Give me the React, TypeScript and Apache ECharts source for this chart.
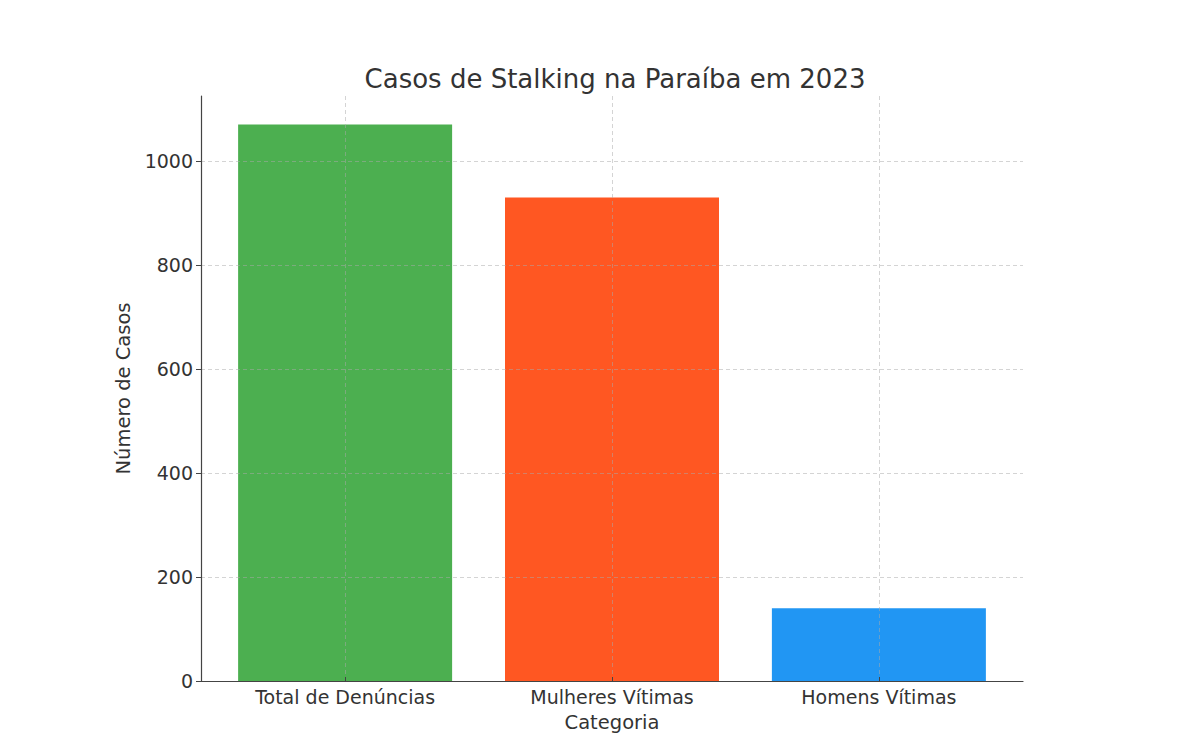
import React, { useEffect, useRef } from "react";
import * as echarts from "echarts";

const categories = ["Total de Denúncias", "Mulheres Vítimas", "Homens Vítimas"];
const values = [1070, 930, 140];
const colors = ["#4CAF50", "#FF5722", "#2196F3"];
const yTicks = [0, 200, 400, 600, 800, 1000];

export default function App() {
  const ref = useRef<HTMLDivElement>(null);
  useEffect(() => {
    if (!ref.current) return;
    const chart = echarts.init(ref.current, null, { renderer: "svg" });
    const font = "DejaVu Sans";
    const txt = "#333333";
    chart.setOption({
      animation: false,
      backgroundColor: "#ffffff",
      textStyle: { fontFamily: font },
      title: {
        text: "Casos de Stalking na Paraíba em 2023",
        left: 610,
        textAlign: "center",
        top: 61,
        textStyle: { fontFamily: font, fontSize: 26, fontWeight: "normal", color: txt },
      },
      grid: { left: 201, right: 177, top: 96, bottom: 61, containLabel: false },
      xAxis: {
        type: "value",
        min: -0.54,
        max: 2.54,
        name: "Categoria",
        nameLocation: "middle",
        nameGap: 31,
        nameTextStyle: { fontFamily: font, fontSize: 19.5, color: txt },
        z: 5,
        axisLine: { show: true, onZero: false, lineStyle: { color: "#444444", width: 1.2 } },
        axisTick: { show: true, inside: true, length: 4, customValues: [0, 1, 2], lineStyle: { color: "#444444" } },
        axisLabel: {
          customValues: [0, 1, 2],
          formatter: (v: number) => categories[Math.round(v)] ?? "",
          fontFamily: font,
          fontSize: 19,
          color: txt,
          margin: 6,
        },
        splitLine: { show: true, lineStyle: { color: "rgba(170,170,170,0.5)", type: [4, 3], width: 1 } },
      },
      yAxis: {
        type: "value",
        min: 0,
        max: 1125,
        interval: 200,
        name: "Número de Casos",
        nameLocation: "middle",
        nameGap: 66,
        nameTextStyle: { fontFamily: font, fontSize: 19.5, color: txt },
        z: 5,
        axisLine: { show: true, onZero: false, lineStyle: { color: "#444444", width: 1.2 } },
        axisTick: { show: true, length: 5, customValues: yTicks, lineStyle: { color: "#444444" } },
        axisLabel: {
          customValues: yTicks,
          formatter: (v: number) => String(v),
          fontFamily: font,
          fontSize: 19,
          color: txt,
          margin: 8,
        },
        splitLine: {
          show: true,
          showMaxLine: true,
          showMinLine: false,
          lineStyle: { color: "rgba(170,170,170,0.5)", type: [4, 3], width: 1 },
        },
      },
      series: [
        {
          type: "bar",
          barWidth: 214,
          z: 1,
          data: categories.map((c, i) => ({
            name: c,
            value: [i, values[i]],
            itemStyle: { color: colors[i] },
          })),
        },
      ],
    });
    return () => chart.dispose();
  }, []);
  return <div ref={ref} style={{ position: "fixed", left: 0, top: 0, width: 1200, height: 742 }} />;
}
